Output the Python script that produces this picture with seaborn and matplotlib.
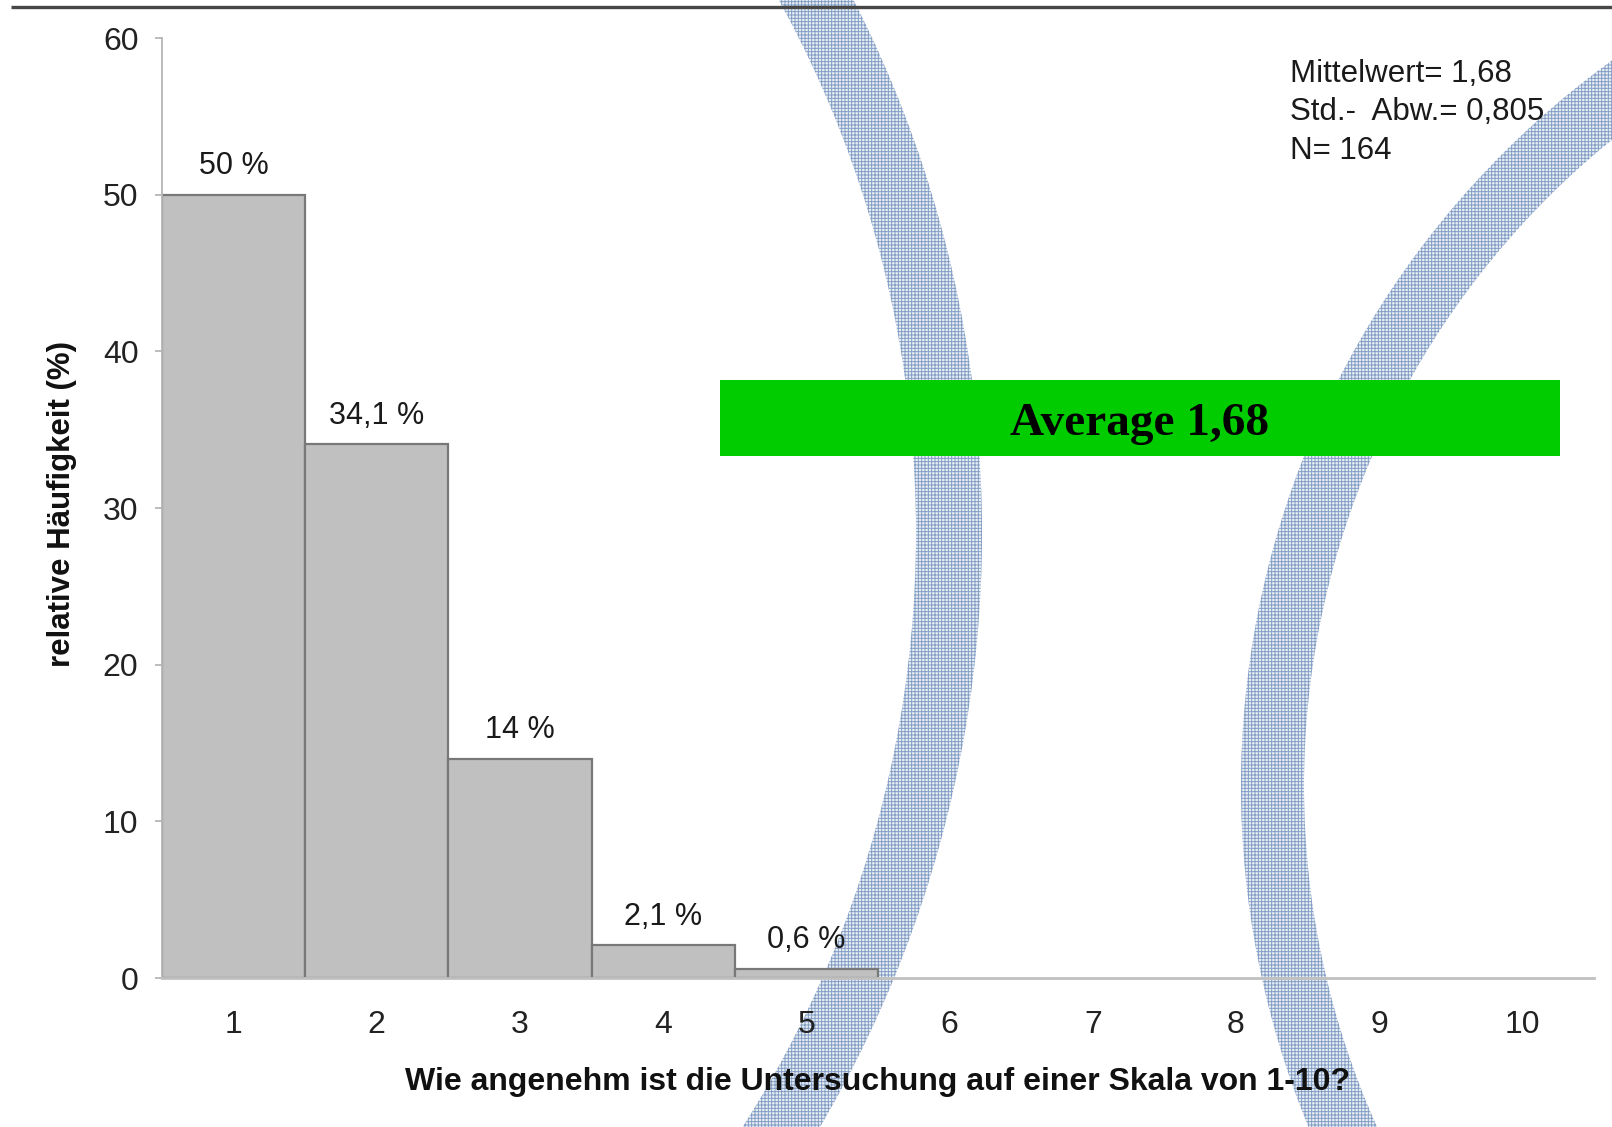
import matplotlib
matplotlib.use("Agg")
import matplotlib.pyplot as plt
from matplotlib.patches import Wedge, Rectangle
import pandas as pd
import seaborn as sns

# Survey result: relative frequency (%) per rating on a 1-10 scale
scores = ["1", "2", "3", "4", "5", "6", "7", "8", "9", "10"]
percent = [50.0, 34.1, 14.0, 2.1, 0.6, 0.0, 0.0, 0.0, 0.0, 0.0]
bar_labels = ["50 %", "34,1 %", "14 %", "2,1 %", "0,6 %"]
y_ticks = [0, 10, 20, 30, 40, 50, 60]
stats_lines = ["Mittelwert= 1,68", "Std.-  Abw.= 0,805", "N= 164"]
banner_text = "Average 1,68"
x_title = "Wie angenehm ist die Untersuchung auf einer Skala von 1-10?"
y_title = "relative Häufigkeit (%)"

sns.set_style("white")
plt.rcParams["font.family"] = ["Liberation Sans", "DejaVu Sans"]
plt.rcParams["hatch.linewidth"] = 0.65

W, H = 1612, 1127
fig = plt.figure(figsize=(W / 100, H / 100), dpi=100)

# ---- decorative background layer (pixel coordinates, y downwards) ----
bg = fig.add_axes([0, 0, 1, 1], zorder=0)
bg.set_xlim(0, W)
bg.set_ylim(H, 0)
bg.axis("off")

for (cx, cy), r_out, r_in in [((-188, 533), 1170, 1104), ((2136, 786), 895, 832)]:
    ring = Wedge((cx, cy), r_out, 0, 360, width=r_out - r_in,
                 facecolor="#e6ecf4", edgecolor="#7f9bc2", linewidth=0,
                 hatch="+++++", zorder=1)
    bg.add_patch(ring)

bg.plot([11, W], [7, 7], color="#474747", linewidth=2.4, zorder=3,
        solid_capstyle="butt")

bg.add_patch(Rectangle((720, 380), 840, 76, facecolor="#00cc00",
                       edgecolor="none", zorder=4))
bg.text(1140, 424, banner_text, ha="center", va="center", fontsize=34,
        fontweight="bold", family=["Liberation Serif", "DejaVu Serif"],
        color="black", zorder=5)

for i, line in enumerate(stats_lines):
    bg.text(1290, 74 + 38.5 * i, line, ha="left", va="center",
            fontsize=22.5, color="#1a1a1a", zorder=5)

# ---- main bar chart ----
ax = fig.add_axes([162 / W, 149 / H, 1432 / W, 940 / H], zorder=2)
ax.patch.set_alpha(0)

df = pd.DataFrame({"score": scores, "percent": percent})
nonzero = df[df["percent"] > 0]
sns.barplot(data=nonzero, x="score", y="percent", order=scores,
            color="#c0c0c0", saturation=1, width=1.0,
            edgecolor="#787878", linewidth=1.6, ax=ax)

for i, (val, lab) in enumerate(zip(percent, bar_labels)):
    ax.text(i, val + 1.8, lab, ha="center", va="center",
            fontsize=22, color="#1a1a1a")

ax.set_xlim(-0.5, 9.5)
ax.set_ylim(0, 60)
ax.set_yticks(y_ticks)

sns.despine(ax=ax, top=True, right=True)
ax.spines["left"].set_color("#b5b5b5")
ax.spines["left"].set_linewidth(1.3)
ax.spines["bottom"].set_color("#c0c0c0")
ax.spines["bottom"].set_linewidth(2.0)

ax.tick_params(axis="y", direction="out", length=5, width=1.2,
               color="#b0b0b0", pad=12, labelsize=23, labelcolor="#222222",
               left=True)
ax.tick_params(axis="x", length=0, pad=23, labelsize=23,
               labelcolor="#222222")

ax.set_xlabel(x_title, fontsize=23, fontweight="bold", color="#111111")
ax.set_ylabel(y_title, fontsize=22.5, fontweight="bold", color="#111111")
ax.xaxis.set_label_coords(0.5, -0.1106)
ax.xaxis.label.set_va("center")
ax.yaxis.set_label_coords(-0.0698, 0.504)
ax.yaxis.label.set_va("center")

fig.savefig("out.png", dpi=100)
